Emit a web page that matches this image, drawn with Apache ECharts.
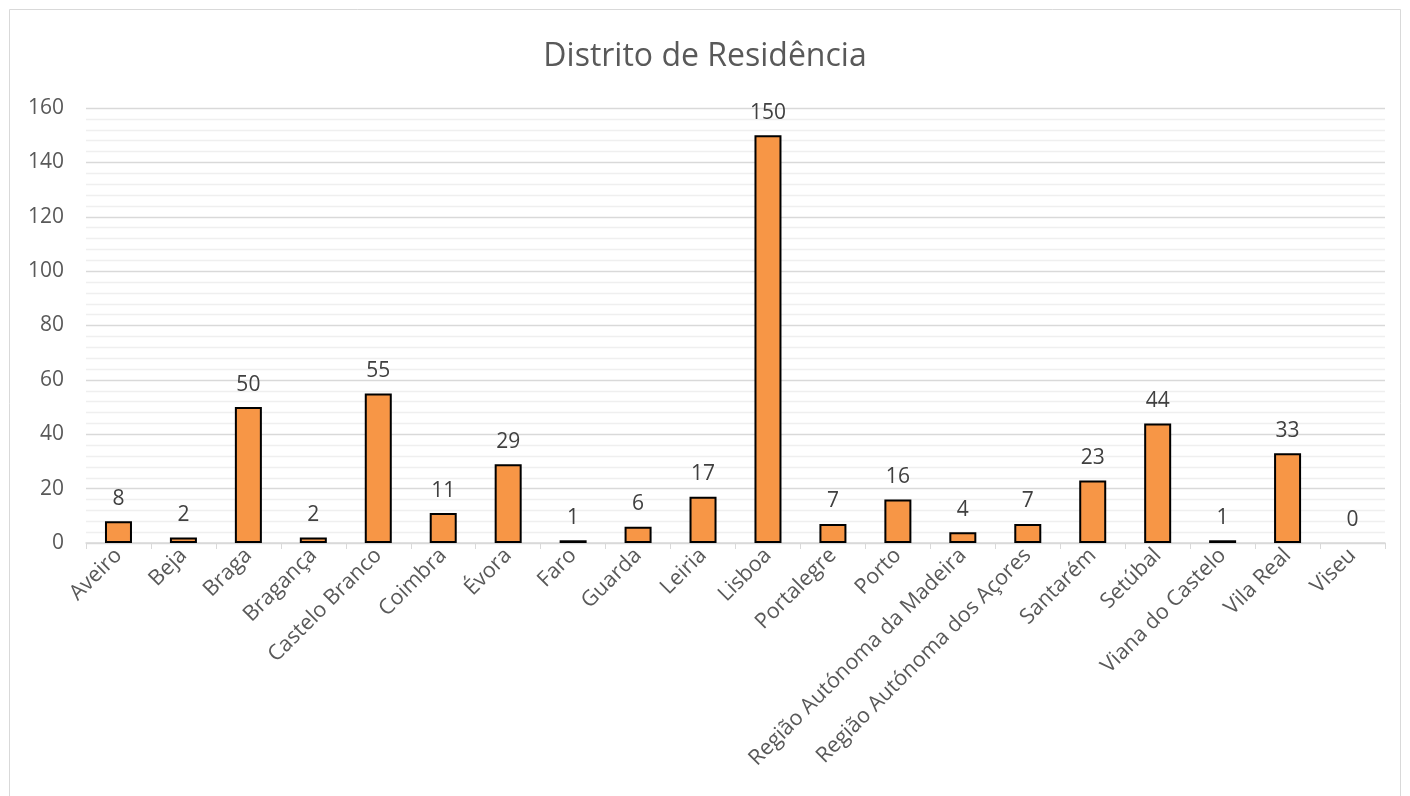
<!DOCTYPE html>
<html><head><meta charset="utf-8">
<script src="https://cdn.jsdelivr.net/npm/echarts@6/dist/echarts.min.js"></script>
<style>html,body{margin:0;padding:0;background:#fff}#c{width:1410px;height:796px}</style>
</head><body><div id="c"></div>
<script>
const categories = ["Aveiro","Beja","Braga","Bragança","Castelo Branco","Coimbra","Évora","Faro","Guarda","Leiria","Lisboa","Portalegre","Porto","Região Autónoma da Madeira","Região Autónoma dos Açores","Santarém","Setúbal","Viana do Castelo","Vila Real","Viseu"];
const values = [8,2,50,2,55,11,29,1,6,17,150,7,16,4,7,23,44,1,33,0];
const titleText = "Distrito de Residência";
const font = "'Open Sans', 'Noto Sans', sans-serif";
const chart = echarts.init(document.getElementById('c'));
chart.setOption({
  animation:false,
  backgroundColor:'#fff',
  title:{text:titleText,left:'center',top:36,textStyle:{fontFamily:font,fontSize:32,fontWeight:'normal',color:'#595959'}},
  graphic:[{type:'rect',shape:{x:9.5,y:9.5,width:1391,height:800},style:{fill:null,stroke:'#d9d9d9',lineWidth:1},silent:true}],
  grid:{left:86,right:25,top:108,bottom:253},
  xAxis:{type:'category',data:categories,
    axisLine:{lineStyle:{color:'#d9d9d9',width:1.5}},
    axisTick:{show:true,alignWithLabel:false,length:6,lineStyle:{color:'#d9d9d9'}},
    axisLabel:{rotate:45,interval:0,fontFamily:font,fontSize:21.5,color:'#595959',margin:9}},
  yAxis:{type:'value',min:0,max:160,interval:20,
    axisLine:{show:false},axisTick:{show:false},
    axisLabel:{fontFamily:font,fontSize:21,color:'#595959',margin:22},
    splitLine:{lineStyle:{color:'#d9d9d9',width:1.3}},
    minorTick:{show:false,splitNumber:5},
    minorSplitLine:{show:true,lineStyle:{color:'#efefef',width:1.3}}},
  series:[{type:'bar',
    data:values.map(v => v === 0 ? {value:v,itemStyle:{borderWidth:0}} : v),
    barWidth:27,
    itemStyle:{color:'#f79646',borderColor:'#000',borderWidth:2},
    label:{show:true,position:'top',distance:12,fontFamily:font,fontSize:21,color:'#404040'}}]
});
</script></body></html>
